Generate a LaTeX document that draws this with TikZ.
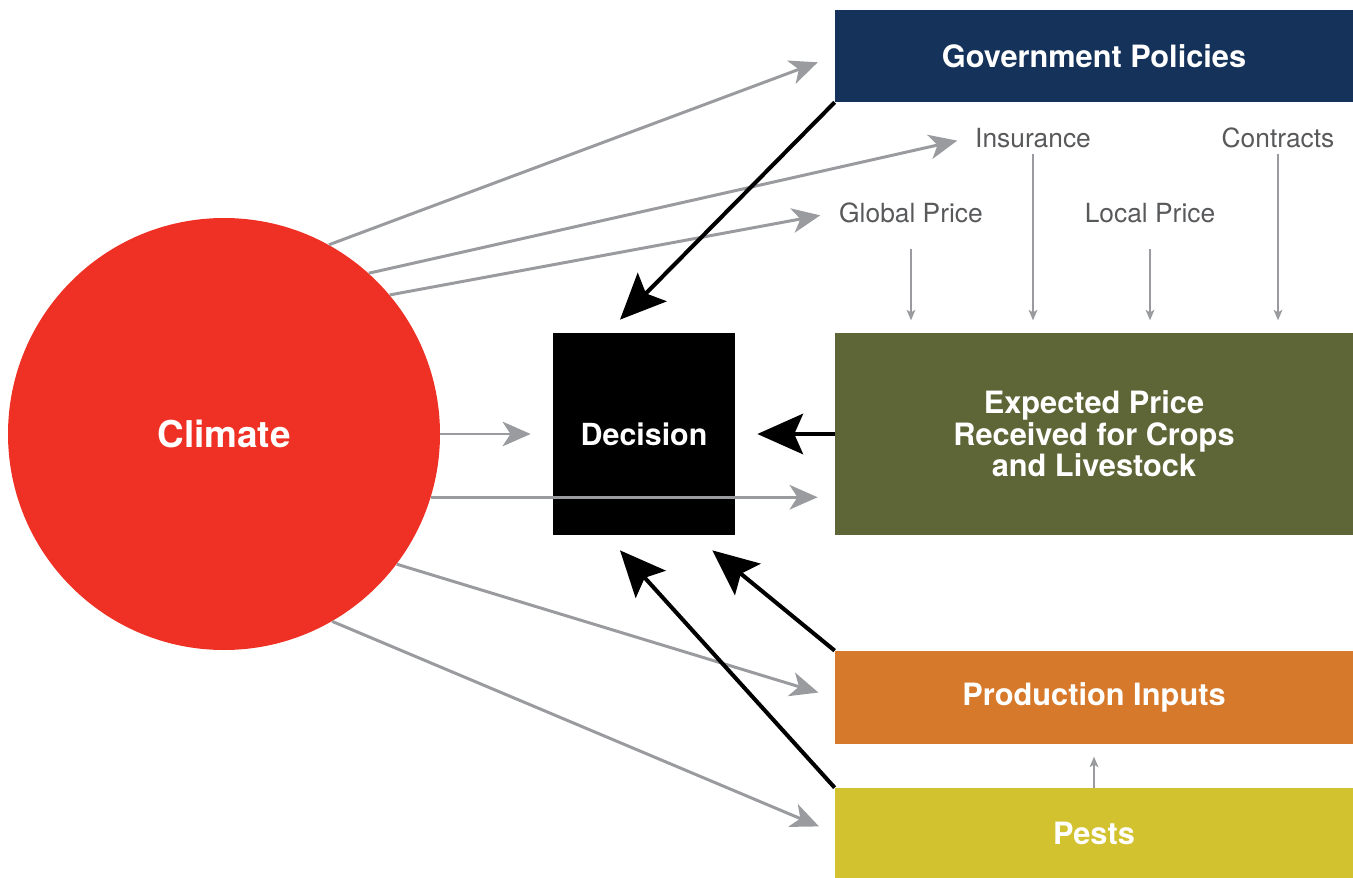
\documentclass[tikz,border=0pt]{standalone}
\usepackage{fontspec}
\setmainfont{TeX Gyre Heros}
\usetikzlibrary{arrows.meta, calc}
\definecolor{climred}{HTML}{EE3124}
\definecolor{govblue}{HTML}{14325A}
\definecolor{priceolive}{HTML}{5E6536}
\definecolor{inputorange}{HTML}{D7792A}
\definecolor{pestyellow}{HTML}{D3C22F}
\definecolor{arrowgrey}{HTML}{9A9B9F}
\definecolor{factorgrey}{HTML}{58595B}

\begin{document}
\begin{tikzpicture}[
  box/.style={
    rectangle,
    fill=#1,
    text=white,
    align=center,
    inner sep=0pt,
    minimum width=10.36cm,
    font=\bfseries\fontsize{17.5}{18}\selectfont
  },
  factor/.style={
    text=factorgrey,
    font=\fontsize{15}{18}\selectfont
  },
  grey/.style={
    draw=arrowgrey,
    line width=1.7pt,
    -{Stealth[length=16pt, width=14pt, inset=4.5pt]},
    shorten >=#1
  },
  grey/.default=0pt,
  feed/.style={
    draw=arrowgrey,
    line width=0.9pt,
    -{Stealth[length=6pt, width=5pt, inset=1.5pt]},
    shorten >=7pt
  },
  link/.style={
    draw=black,
    line width=2.3pt,
    -{Stealth[length=26pt, width=23pt, inset=5pt]},
    shorten >=#1
  },
  link/.default=0pt
  ]

  \useasboundingbox (0,0) rectangle (27.06,-17.56);

  \pgfmathsetmacro{\xb}{21.88}
  \pgfmathsetmacro{\ym}{-8.68}
  \pgfmathsetmacro{\yf}{-2.76}
  \pgfmathsetmacro{\yp}{-4.26}

  \node [circle, fill=climred, text=white, inner sep=0pt, minimum size=8.64cm,
    font=\bfseries\fontsize{21}{24}\selectfont] (climate) at (4.48,\ym) {Climate};
  \node [rectangle, fill=black, text=white, inner sep=0pt,
    minimum width=3.64cm, minimum height=4.04cm,
    font=\bfseries\fontsize{17.3}{18}\selectfont] (decision) at (12.88,\ym) {Decision};

  \node [box=govblue, minimum height=1.84cm] (gov) at (\xb,-1.12) {Government Policies};
  \node [box=priceolive, minimum height=4.04cm] (expected) at (\xb,\ym)
    {Expected Price\\Received for Crops\\and Livestock};
  \node [box=inputorange, minimum height=1.86cm] (inputs) at (\xb,-13.95) {Production Inputs};
  \node [box=pestyellow, minimum height=1.8cm] (pests) at (\xb,-16.66) {Pests};

  \node [factor] (insurance) at (20.66,\yf) {Insurance};
  \node [factor] (contracts) at (25.56,\yf) {Contracts};
  \node [factor] (global) at (18.22,\yp) {Global Price};
  \node [factor] (local) at (23.0,\yp) {Local Price};

  % tips of the black arrows
  \coordinate (dtop) at ($(decision.north)+(-0.48,0.26)$);
  \coordinate (dbotl) at ($(decision.south)+(-0.48,-0.3)$);
  \coordinate (dbotr) at ($(decision.south east)+(-0.46,-0.3)$);

  % price factors
  \draw [feed] (insurance.south) -- (insurance.south |- expected.north);
  \draw [feed] (contracts.south) -- (contracts.south |- expected.north);
  \draw [feed, shorten <=0.4cm] (global.south) -- (global.south |- expected.north);
  \draw [feed, shorten <=0.4cm] (local.south) -- (local.south |- expected.north);
  \draw [feed] (pests.north) -- (inputs.south);

  % climate
  \draw [grey=0.36cm] (climate.61) -- (gov.west);
  \draw [grey=0.24cm] (climate.48) -- (insurance.west);
  \draw [grey=0.26cm] (climate.40) -- (global.west);
  \draw [grey=0.44cm] (climate.east) -- (decision.west);
  \draw [grey=0.34cm] (climate.-17) -- (climate.-17 -| expected.west);
  \draw [grey=0.34cm] (climate.-37) -- (inputs.west);
  \draw [grey=0.34cm] (climate.-60) -- (pests.west);

  % decision
  \draw [link] (gov.south west) -- (dtop);
  \draw [link=0.44cm] (expected.west) -- (decision.east);
  \draw [link] (inputs.north west) -- (dbotr);
  \draw [link] (pests.north west) -- (dbotl);

\end{tikzpicture}
\end{document}
